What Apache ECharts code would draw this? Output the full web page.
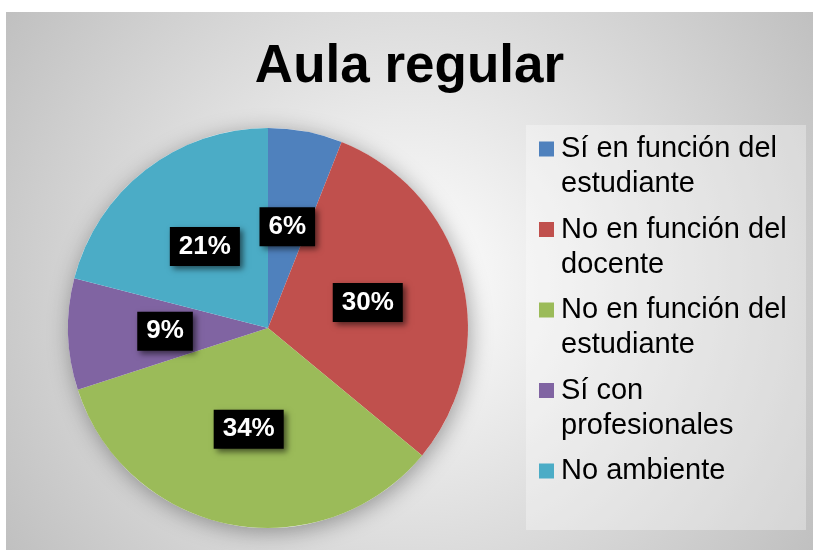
<!DOCTYPE html>
<html>
<head>
<meta charset="utf-8">
<script src="https://cdn.jsdelivr.net/npm/echarts@6/dist/echarts.min.js"></script>
<style>
    html, body { margin: 0; padding: 0; background: #ffffff; }
    #chart { position: absolute; left: 6px; top: 12px; width: 807px; height: 538px; }
</style>
</head>
<body>
<div id="chart"></div>
<script>
// datos
var categories = ['Sí en función del estudiante', 'No en función del docente', 'No en función del estudiante', 'Sí con profesionales', 'No ambiente']
var legendText = ['Sí en función del\nestudiante', 'No en función del\ndocente', 'No en función del\nestudiante', 'Sí con\nprofesionales', 'No ambiente']
var values = [6, 30, 34, 9, 21]
var colors = ['#4F81BD', '#C0504D', '#9BBB59', '#8064A2', '#4BACC6']

var myChart = echarts.init(document.getElementById('chart'))

var pieData = categories.map(function (name, i) {
    return { name: name, value: values[i], itemStyle: { color: colors[i] } }
})
var total = values.reduce(function (a, b) { return a + b }, 0)

var option = {
    backgroundColor: {
        type: 'radial', x: 0.5, y: 0.5, r: 0.9,
        colorStops: [
            { offset: 0, color: '#ffffff' },
            { offset: 1, color: '#c0c0c0' }
        ]
    },
    title: {
        text: 'Aula regular',
        left: 'center',
        top: 24,
        textStyle: {
            fontFamily: 'Liberation Sans, Arial',
            fontSize: 53,
            fontWeight: 'bold',
            color: '#000'
        }
    },
    graphic: [
        {
            type: 'rect', left: 520, top: 113, z: 0,
            shape: { width: 280, height: 405 },
            style: { fill: 'rgba(255,255,255,0.32)' }
        }
    ],
    legend: {
        orient: 'vertical',
        left: 533,
        top: 84.5,
        padding: 0,
        itemGap: -24.5,
        itemWidth: 15,
        itemHeight: 15,
        icon: 'rect',
        data: categories,
        formatter: function (name) {
            // lineas vacias para que la primera linea quede junto al icono
            var t = legendText[categories.indexOf(name)]
            return t.indexOf('\n') >= 0 ? ' \n' + t : ' \n' + t + '\n '
        },
        textStyle: {
            fontFamily: 'Liberation Sans, Arial',
            fontSize: 29,
            lineHeight: 35,
            padding: [0, 0, 0, 2],
            color: '#000'
        }
    },
    series: [
        {
            // sombra bajo el circulo
            name: 'sombra',
            type: 'pie',
            silent: true,
            z: 1,
            center: [262, 316],
            radius: 200,
            label: { show: false },
            labelLine: { show: false },
            itemStyle: {
                color: '#ffffff',
                shadowBlur: 22,
                shadowColor: 'rgba(0,0,0,0.35)',
                shadowOffsetX: 2,
                shadowOffsetY: 4
            },
            data: [{ name: 'total', value: total }]
        },
        {
            name: 'Aula regular',
            type: 'pie',
            z: 2,
            center: [262, 316],
            radius: 200,
            startAngle: 90,
            clockwise: true,
            itemStyle: { borderWidth: 0 },
            emphasis: { scale: false },
            label: {
                show: true,
                position: 'inside',
                formatter: function (p) { return p.value + '%' },
                fontFamily: 'Liberation Sans, Arial',
                fontSize: 26,
                fontWeight: 'bold',
                color: '#ffffff',
                backgroundColor: '#000000',
                padding: [7, 9, 6, 9],
                shadowBlur: 6,
                shadowColor: 'rgba(0,0,0,0.55)',
                shadowOffsetX: 3,
                shadowOffsetY: 3
            },
            labelLine: { show: false },
            data: pieData
        }
    ]
}
myChart.setOption(option)
window.addEventListener('resize', function () {
    if (myChart) {
        myChart.resize()
    }
})
</script>
</body>
</html>
